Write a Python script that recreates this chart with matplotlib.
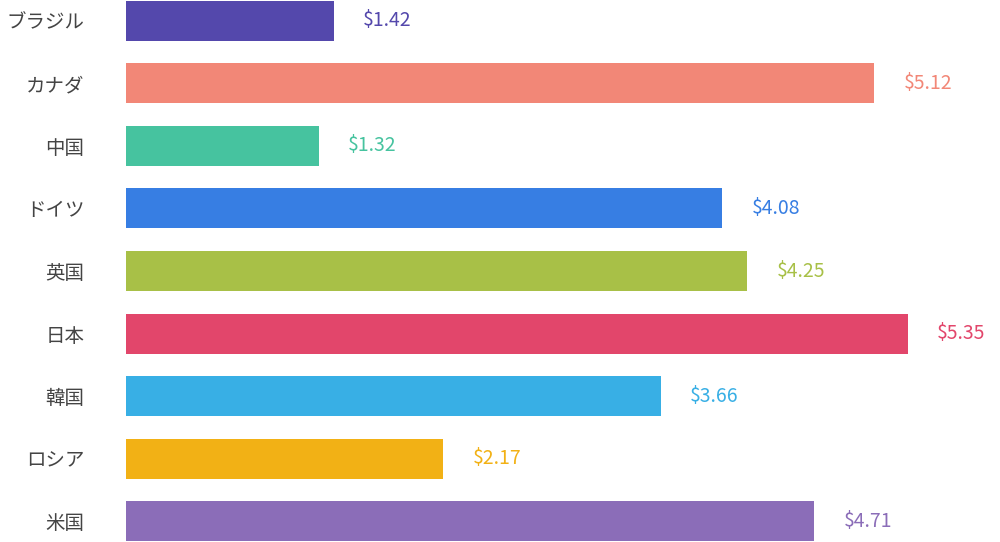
import matplotlib.pyplot as plt

countries = ["ブラジル", "カナダ", "中国", "ドイツ", "英国", "日本", "韓国", "ロシア", "米国"]
values = [1.42, 5.12, 1.32, 4.08, 4.25, 5.35, 3.66, 2.17, 4.71]
colors = ["#5448AC", "#F28777", "#46C39F", "#377EE3", "#A8C047",
          "#E2466B", "#38AFE5", "#F2B115", "#8B6DB8"]

plt.rcParams["font.family"] = ["Noto Sans CJK JP", "DejaVu Sans"]

fig = plt.figure(figsize=(10, 5.42), dpi=100)
ax = fig.add_axes([0.126, 0.0, 0.874, 1.0])

ypos = list(range(len(countries)))
ax.barh(ypos, values, height=0.64, color=colors)

for y, v, c in zip(ypos, values, colors):
    ax.text(v + 0.2, y, f"${v:.2f}", color=c, fontsize=14, va="center", ha="left")

ax.set_yticks(ypos)
ax.set_yticklabels(countries, fontsize=14, color="#444444")
ax.tick_params(axis="y", length=0, pad=30)
ax.set_xticks([])
ax.set_xlim(0, 5.98)
ax.set_ylim(8.33, -0.33)
for s in ax.spines.values():
    s.set_visible(False)

fig.savefig("out.png", dpi=100)
